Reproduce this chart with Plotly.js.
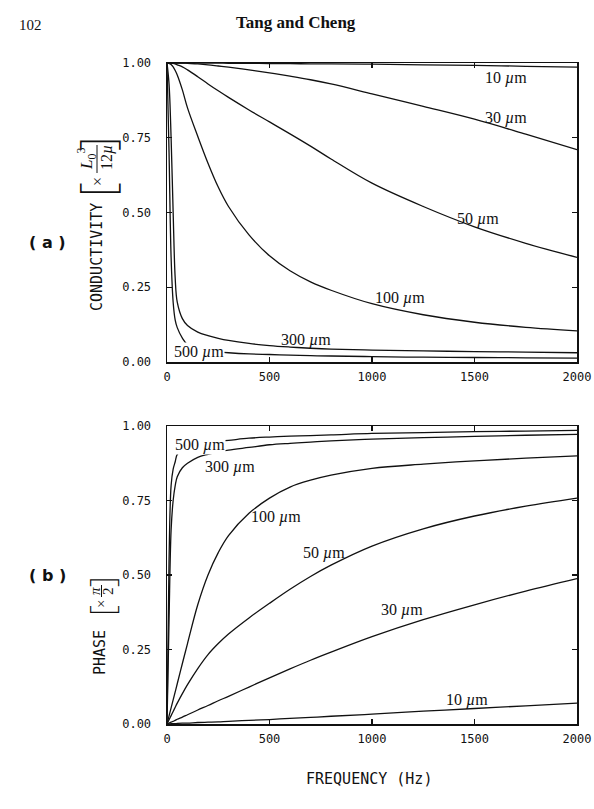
<!DOCTYPE html>
<html>
<head>
<meta charset="utf-8">
<script src="https://cdn.plot.ly/plotly-3.0.1.min.js"></script>
<style>html,body{margin:0;padding:0;background:#fff}</style>
</head>
<body>
<div id="chart" style="width:594px;height:809px"></div>
<script>
// Frequency grid (Hz) shared by all curves
const freq = [0, 10, 20, 30, 40, 50, 75, 100, 150, 200, 250, 300, 400, 500, 600, 700, 800, 1000, 1250, 1500, 1750, 2000];

// (a) normalised conductivity for each aperture
const cond10  = [1, 1, 1, 1, 1, 1, 1, 1, 1, 1, 1, 0.999, 0.999, 0.998, 0.998, 0.997, 0.997, 0.996, 0.994, 0.992, 0.989, 0.986];
const cond30  = [1, 1, 1, 1, 1, 1, 1, 0.999, 0.997, 0.994, 0.99, 0.986, 0.977, 0.967, 0.956, 0.944, 0.93, 0.897, 0.855, 0.812, 0.762, 0.71];
const cond50  = [1, 1, 1, 0.999, 0.997, 0.994, 0.987, 0.977, 0.954, 0.93, 0.907, 0.885, 0.843, 0.803, 0.763, 0.722, 0.679, 0.598, 0.52, 0.452, 0.397, 0.35];
const cond100 = [1, 0.999, 0.995, 0.987, 0.975, 0.96, 0.91, 0.85, 0.755, 0.665, 0.585, 0.52, 0.425, 0.355, 0.305, 0.268, 0.24, 0.195, 0.158, 0.133, 0.116, 0.104];
const cond300 = [1, 0.93, 0.75, 0.5, 0.28, 0.2, 0.145, 0.122, 0.1, 0.088, 0.079, 0.072, 0.062, 0.055, 0.05, 0.046, 0.043, 0.04, 0.037, 0.035, 0.033, 0.031];
const cond500 = [1, 0.7, 0.35, 0.2, 0.14, 0.115, 0.08, 0.058, 0.045, 0.038, 0.034, 0.031, 0.027, 0.025, 0.023, 0.021, 0.02, 0.018, 0.016, 0.015, 0.014, 0.013];

// (b) normalised phase for each aperture
const phase10  = [0, 0, 0.001, 0.001, 0.001, 0.002, 0.003, 0.003, 0.005, 0.006, 0.007, 0.009, 0.012, 0.015, 0.019, 0.022, 0.026, 0.033, 0.043, 0.052, 0.061, 0.07];
const phase30  = [0, 0.003, 0.006, 0.009, 0.012, 0.016, 0.023, 0.031, 0.047, 0.062, 0.078, 0.093, 0.124, 0.155, 0.185, 0.214, 0.241, 0.293, 0.35, 0.4, 0.446, 0.488];
const phase50  = [0, 0.014, 0.028, 0.042, 0.056, 0.07, 0.102, 0.132, 0.186, 0.233, 0.27, 0.302, 0.356, 0.405, 0.452, 0.495, 0.533, 0.597, 0.655, 0.698, 0.731, 0.758];
const phase100 = [0, 0.027, 0.054, 0.081, 0.108, 0.135, 0.203, 0.27, 0.4, 0.5, 0.575, 0.632, 0.707, 0.758, 0.795, 0.818, 0.835, 0.858, 0.872, 0.883, 0.892, 0.9];
const phase300 = [0, 0.35, 0.65, 0.75, 0.8, 0.83, 0.86, 0.875, 0.895, 0.905, 0.913, 0.919, 0.928, 0.937, 0.942, 0.946, 0.95, 0.956, 0.961, 0.965, 0.969, 0.972];
const phase500 = [0, 0.55, 0.8, 0.855, 0.88, 0.905, 0.92, 0.928, 0.94, 0.946, 0.949, 0.952, 0.959, 0.963, 0.966, 0.968, 0.97, 0.975, 0.978, 0.981, 0.983, 0.985];

// Curve labels: [text, frequency, value]
const condLabels = [
  ['10 <i>µ</i>m', 1652, 0.951],
  ['30 <i>µ</i>m', 1652, 0.816],
  ['50 <i>µ</i>m', 1515, 0.477],
  ['100 <i>µ</i>m', 1135, 0.213],
  ['300 <i>µ</i>m', 680, 0.074],
  ['500 <i>µ</i>m', 154, 0.034]
];
const phaseLabels = [
  ['500 <i>µ</i>m', 159, 0.936],
  ['300 <i>µ</i>m', 306, 0.863],
  ['100 <i>µ</i>m', 533, 0.696],
  ['50 <i>µ</i>m', 764, 0.575],
  ['30 <i>µ</i>m', 1144, 0.383],
  ['10 <i>µ</i>m', 1463, 0.08]
];

const freqTicks = [0, 500, 1000, 1500, 2000];
const valueTicks = [0, 0.25, 0.5, 0.75, 1];

const INK = '#111';
const W = 594, H = 809;
const PL = 167, PR = 577, PT = 63, PB = 724;   // plotting rectangle in pixels
const px = v => (v - PL) / (PR - PL);
const py = v => (PB - v) / (PB - PT);
const topDomain = [py(362), 1];
const botDomain = [0, py(426)];

function curve(y, xa, ya) {
  return {x: freq, y: y, xaxis: xa, yaxis: ya, mode: 'lines', hoverinfo: 'skip',
          line: {color: INK, width: 1.3, shape: 'spline', smoothing: 1}};
}
const traces = [
  curve(cond10, 'x', 'y'), curve(cond30, 'x', 'y'), curve(cond50, 'x', 'y'),
  curve(cond100, 'x', 'y'), curve(cond300, 'x', 'y'), curve(cond500, 'x', 'y'),
  curve(phase10, 'x2', 'y2'), curve(phase30, 'x2', 'y2'), curve(phase50, 'x2', 'y2'),
  curve(phase100, 'x2', 'y2'), curve(phase300, 'x2', 'y2'), curve(phase500, 'x2', 'y2')
];

const tickFont = {family: 'DejaVu Sans Mono', size: 12, color: INK};
const labelFont = {family: 'Liberation Serif', size: 16, color: INK};
const plotterFont = {family: 'DejaVu Sans Mono', size: 15, color: INK};
const serif = (size, extra) => Object.assign({family: 'Liberation Serif', size: size, color: INK}, extra || {});
const bracketFont = size => ({family: 'Noto Sans', size: size, color: INK, weight: 200});

function xAxis(anchor) {
  return {anchor: anchor, domain: [0, 1], range: [0, 2000], tickvals: freqTicks,
          ticks: 'inside', ticklen: 5, tickwidth: 1.1, tickcolor: INK,
          showline: true, linewidth: 1.5, linecolor: INK, mirror: 'ticks',
          showgrid: false, zeroline: false, tickfont: tickFont, ticklabelstandoff: 3, fixedrange: true};
}
function yAxis(anchor, domain) {
  return {anchor: anchor, domain: domain, range: [0, 1], tickvals: valueTicks, tickformat: '.2f',
          ticks: 'inside', ticklen: 5, tickwidth: 1.1, tickcolor: INK,
          showline: true, linewidth: 1.5, linecolor: INK, mirror: 'ticks',
          showgrid: false, zeroline: false, tickfont: tickFont, ticklabelstandoff: 12, fixedrange: true};
}

const annotations = [];
condLabels.forEach(([t, f, v], i) => annotations.push({
  xref: 'x', yref: 'y', x: f, y: v, text: t, showarrow: false, font: labelFont,
  bgcolor: i === 5 ? '#fff' : 'rgba(0,0,0,0)', borderpad: 0}));
phaseLabels.forEach(([t, f, v], i) => annotations.push({
  xref: 'x2', yref: 'y2', x: f, y: v, text: t, showarrow: false, font: labelFont,
  bgcolor: i === 0 ? '#fff' : 'rgba(0,0,0,0)', borderpad: 0}));

function paperText(text, x, y, font, angle) {
  annotations.push({xref: 'paper', yref: 'paper', x: px(x), y: py(y), text: text,
    showarrow: false, font: font, textangle: angle || 0, xanchor: 'center', yanchor: 'middle'});
}

// page header
paperText('102', 30, 25, serif(15));
paperText('<b>Tang and Cheng</b>', 296, 22, serif(17));

// panel tags
paperText('<b>( a )</b>', 47, 242, {family: 'DejaVu Sans', size: 16, color: INK});
paperText('<b>( b )</b>', 47, 575, {family: 'DejaVu Sans', size: 16, color: INK});

// axis titles: conductivity with its bracketed unit L0^3 / 12µ
paperText('CONDUCTIVITY', 97, 257, plotterFont, -90);
paperText('[', 95, 190, bracketFont(46), -90);
paperText(']', 95, 144, bracketFont(46), -90);
paperText('×', 97, 182, serif(16), -90);
paperText('<i>L</i><sub>0</sub><sup>3</sup>', 86, 159, serif(17), -90);
paperText('12<i>µ</i>', 107, 158, serif(16), -90);

// phase with its bracketed unit π / 2
paperText('PHASE', 100, 653, plotterFont, -90);
paperText('[', 101, 611, bracketFont(34), -90);
paperText(']', 101, 582, bracketFont(34), -90);
paperText('×', 101, 604, serif(15), -90);
paperText('<i>π</i>', 95, 591, serif(15), -90);
paperText('2', 108, 591, serif(15), -90);

paperText('FREQUENCY (Hz)', 369, 779, plotterFont, 0);

// fraction bars inside the bracketed units
const shapes = [
  {type: 'line', xref: 'paper', yref: 'paper', x0: px(97), x1: px(97), y0: py(145), y1: py(173),
   line: {color: INK, width: 1}},
  {type: 'line', xref: 'paper', yref: 'paper', x0: px(101.5), x1: px(101.5), y0: py(585), y1: py(597),
   line: {color: INK, width: 1}}
];

const layout = {
  width: W, height: H,
  margin: {l: PL, r: W - PR, t: PT, b: H - PB, pad: 0},
  paper_bgcolor: '#fff', plot_bgcolor: '#fff',
  showlegend: false,
  xaxis: xAxis('y'), yaxis: yAxis('x', topDomain),
  xaxis2: xAxis('y2'), yaxis2: yAxis('x2', botDomain),
  annotations: annotations, shapes: shapes
};

Plotly.newPlot('chart', traces, layout, {staticPlot: true, displayModeBar: false});
</script>
</body>
</html>
